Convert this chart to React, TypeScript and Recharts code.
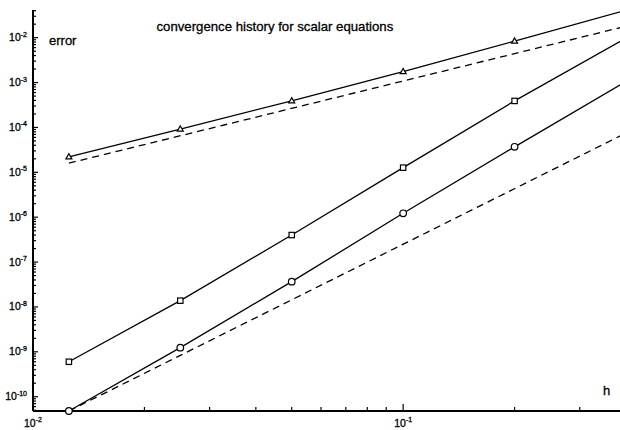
import React from 'react';
import { LineChart, Line, XAxis, YAxis } from 'recharts';

// mesh size h and the errors of the three schemes
const stepSizes = [0.0125, 0.025, 0.05, 0.1, 0.2, 0.4];
const errTriangle = [2.2e-5, 9.2e-5, 3.9e-4, 1.75e-3, 8.4e-3, 0.041];
const errSquare = [6.0e-10, 1.38e-8, 4.0e-7, 1.27e-5, 3.9e-4, 9.8e-3];
const errCircle = [4.8e-11, 1.24e-9, 3.66e-8, 1.22e-6, 3.7e-5, 1.06e-3];
// dashed reference slopes (2nd and 4th order), only end points
const refSecond = [1.6e-5, null, null, null, null, 0.018];
const refFourth = [4.8e-11, null, null, null, null, 7.5e-5];

const xMajor = [0.01, 0.1];
const xMinor = [0.02, 0.03, 0.04, 0.05, 0.06, 0.07, 0.08, 0.09, 0.2, 0.3, 0.4];
const yMajorExp = [-10, -9, -8, -7, -6, -5, -4, -3, -2];

const X_DOMAIN: [number, number] = [0.01, 0.4];
const Y_DOMAIN: [number, number] = [4.8e-11, 0.0414];

const FONT = '"Liberation Sans", Arial, Helvetica, sans-serif';
// the original text is a bit heavier than plain regular
const inkStroke = { stroke: '#000', strokeWidth: 0.3 };

const tableData = stepSizes.map((h, i) => ({
  h,
  tri: errTriangle[i],
  sq: errSquare[i],
  circ: errCircle[i],
  ref2: refSecond[i],
  ref4: refFourth[i],
}));

// minor ticks for the y axis: 2..9 x 10^k inside the domain
const yMinor: number[] = [];
for (let k = -11; k <= -2; k++) {
  for (let m = 2; m <= 9; m++) {
    const v = m * Math.pow(10, k);
    if (v >= Y_DOMAIN[0] && v <= Y_DOMAIN[1]) yMinor.push(v);
  }
}
const yMajor = yMajorExp.map((e) => Math.pow(10, e));

const isMajor = (list: number[], v: number) =>
  list.some((m) => Math.abs(m - v) / m < 1e-6);

const expOf = (v: number) => Math.round(Math.log10(v));

const XTick = (props: any) => {
  const { x, y, payload } = props;
  const v = payload.value;
  const major = isMajor(xMajor, v);
  return (
    <g>
      <line x1={x} x2={x} y1={y} y2={y - (major ? 7 : 4)} stroke="#000" strokeWidth={1.2} />
      {major && (
        <text x={x} y={y + 16} textAnchor="middle" fontSize={10.5} fontFamily={FONT} fill="#000" {...inkStroke}>
          10<tspan dy={-5} fontSize={7}>{expOf(v)}</tspan>
        </text>
      )}
    </g>
  );
};

const YTick = (props: any) => {
  const { x, y, payload } = props;
  const v = payload.value;
  const major = isMajor(yMajor, v);
  return (
    <g>
      <line x1={x} x2={x + (major ? 5 : 3)} y1={y} y2={y} stroke="#000" strokeWidth={1.2} />
      {major && (
        <text x={x - 6} y={y + 3.5} textAnchor="end" fontSize={10.5} fontFamily={FONT} fill="#000" {...inkStroke}>
          10<tspan dy={-4.5} fontSize={7}>{expOf(v)}</tspan>
        </text>
      )}
    </g>
  );
};

const hidden = (props: any) => props.payload.h >= 0.4;

const TriangleDot = (props: any) => {
  const { cx, cy, index } = props;
  if (hidden(props)) return <g key={`t${index}`} />;
  return (
    <polygon
      key={`t${index}`}
      points={`${cx},${cy - 3.2} ${cx - 3},${cy + 2} ${cx + 3},${cy + 2}`}
      fill="#fff"
      stroke="#000"
      strokeWidth={1.2}
    />
  );
};

const SquareDot = (props: any) => {
  const { cx, cy, index } = props;
  if (hidden(props)) return <g key={`s${index}`} />;
  return (
    <rect key={`s${index}`} x={cx - 2.7} y={cy - 2.7} width={5.4} height={5.4} fill="#fff" stroke="#000" strokeWidth={1.2} />
  );
};

const CircleDot = (props: any) => {
  const { cx, cy, index } = props;
  if (hidden(props)) return <g key={`c${index}`} />;
  return <circle key={`c${index}`} cx={cx} cy={cy} r={3.3} fill="#fff" stroke="#000" strokeWidth={1.2} />;
};

export default function App() {
  return (
    <div
      style={{
        position: 'fixed',
        left: 0,
        top: 0,
        width: 620,
        height: 430,
        overflow: 'hidden',
        background: '#fff',
      }}
    >
      <LineChart width={626} height={430} data={tableData} margin={{ top: 10, right: 0, left: 0, bottom: 0 }}>
        <XAxis
          dataKey="h"
          type="number"
          scale="log"
          domain={X_DOMAIN}
          ticks={[...xMajor, ...xMinor]}
          interval={0}
          tickSize={0}
          tickMargin={0}
          tick={<XTick />}
          tickLine={false}
          axisLine={{ stroke: '#000', strokeWidth: 2 }}
          height={19}
        />
        <YAxis
          type="number"
          scale="log"
          domain={Y_DOMAIN}
          ticks={[...yMajor, ...yMinor]}
          interval={0}
          tickSize={0}
          tickMargin={0}
          tick={<YTick />}
          tickLine={false}
          axisLine={{ stroke: '#000', strokeWidth: 2 }}
          width={33}
        />
        <Line type="linear" dataKey="ref2" stroke="#000" strokeWidth={1.3} strokeDasharray="7 5" dot={false} connectNulls isAnimationActive={false} />
        <Line type="linear" dataKey="ref4" stroke="#000" strokeWidth={1.3} strokeDasharray="7 5" dot={false} connectNulls isAnimationActive={false} />
        <Line type="linear" dataKey="tri" stroke="#000" strokeWidth={1.3} dot={TriangleDot} isAnimationActive={false} />
        <Line type="linear" dataKey="sq" stroke="#000" strokeWidth={1.3} dot={SquareDot} isAnimationActive={false} />
        <Line type="linear" dataKey="circ" stroke="#000" strokeWidth={1.3} dot={CircleDot} isAnimationActive={false} />
      </LineChart>
      <svg width={620} height={430} style={{ position: 'absolute', left: 0, top: 0, pointerEvents: 'none' }}>
        <text x={156.5} y={31} fontSize={13.2} fontFamily={FONT} fill="#000" {...inkStroke}>
          convergence history for scalar equations
        </text>
        <text x={49} y={45} fontSize={13} fontFamily={FONT} fill="#000" {...inkStroke}>
          error
        </text>
        <text x={603} y={395} fontSize={13} fontFamily={FONT} fill="#000" {...inkStroke}>
          h
        </text>
      </svg>
    </div>
  );
}
